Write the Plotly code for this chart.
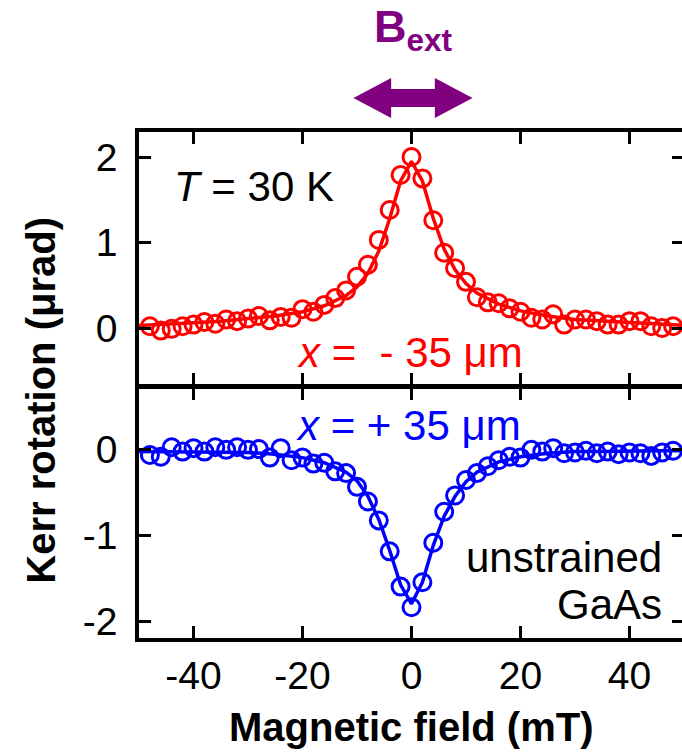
import plotly.graph_objects as go

# ---------------- data ----------------
field = [-48, -46, -44, -42, -40, -38, -36, -34, -32, -30, -28, -26, -24, -22, -20,
         -18, -16, -14, -12, -10, -8, -6, -4, -2, 0, 2, 4, 6, 8, 10, 12, 14, 16,
         18, 20, 22, 24, 26, 28, 30, 32, 34, 36, 38, 40, 42, 44, 46, 48]

kerr_minus35 = [0.02, -0.03, -0.01, 0.02, 0.04, 0.07, 0.05, 0.10, 0.08, 0.11, 0.14, 0.09,
                0.13, 0.12, 0.22, 0.19, 0.27, 0.35, 0.44, 0.60, 0.74, 1.03, 1.38, 1.79,
                2.00, 1.75, 1.26, 0.88, 0.70, 0.54, 0.36, 0.30, 0.29, 0.23, 0.19, 0.12,
                0.10, 0.16, 0.04, 0.10, 0.10, 0.08, 0.04, 0.04, 0.08, 0.08, 0.02, 0.00, 0.02]

kerr_plus35 = [-0.07, -0.09, 0.02, -0.03, 0.01, -0.03, 0.02, -0.01, 0.02, -0.01, 0.00, -0.10,
               0.01, -0.13, -0.10, -0.17, -0.16, -0.26, -0.28, -0.44, -0.61, -0.83, -1.19, -1.60,
               -1.84, -1.55, -1.09, -0.73, -0.54, -0.36, -0.28, -0.20, -0.13, -0.09, -0.10, -0.01,
               -0.03, 0.01, -0.05, -0.04, -0.02, -0.05, -0.03, -0.06, -0.04, -0.05, -0.08, -0.04, -0.02]

fit_field = [-50, -45, -40, -35, -30, -25, -20, -16, -12, -10, -8, -6, -4, -2, 0,
             2, 4, 6, 8, 10, 12, 16, 20, 25, 30, 35, 40, 45, 50]
fit_minus35 = [0.03, 0.04, 0.06, 0.08, 0.11, 0.14, 0.19, 0.26, 0.38, 0.48, 0.64, 0.90, 1.28, 1.72, 1.95,
               1.72, 1.28, 0.92, 0.68, 0.52, 0.41, 0.28, 0.20, 0.14, 0.10, 0.08, 0.06, 0.04, 0.03]
fit_plus35 = [-0.03, -0.03, -0.03, -0.04, -0.04, -0.06, -0.10, -0.16, -0.27, -0.37, -0.55, -0.82, -1.18, -1.58, -1.80,
              -1.55, -1.12, -0.78, -0.55, -0.38, -0.27, -0.15, -0.09, -0.05, -0.03, -0.03, -0.02, -0.02, -0.02]

x_ticks = [-40, -20, 0, 20, 40]
x_ticktext = ["-40", "-20", "0", "20", "40"]
top_ticks = [0, 1, 2]
top_ticktext = ["0", "1", "2"]
bottom_ticks = [-2, -1, 0]
bottom_ticktext = ["-2", "-1", "0"]

RED = "#FF0000"
BLUE = "#0000FF"
PURPLE = "#800080"
FONT = "Arial, Liberation Sans, sans-serif"

# ---------------- geometry ----------------
W, H = 690, 752
ML, MR, MT, MB = 139, 2, 132, 114
PW, PH = W - ML - MR, H - MT - MB
LW = 3.5


def px(x):
    return (x - ML) / PW


def py(y):
    return (H - MB - y) / PH


split_bottom = py(388)            # top of the lower panel
split_top = py(388 - LW)          # bottom of the upper panel (lines overlap)

# value scales (pixels per unit)
top_unit, top_zero = 85.5, 328    # px per unit, pixel row of y=0
bot_unit, bot_zero = 86.0, 449

top_range = [-(388 - LW - top_zero) / top_unit, (top_zero - 132) / top_unit]
bot_range = [-(638 - bot_zero) / bot_unit, (bot_zero - 388) / bot_unit]

fig = go.Figure()

# top panel
fig.add_trace(go.Scatter(x=fit_field, y=fit_minus35, mode="lines", xaxis="x2", yaxis="y",
                         line=dict(color=RED, width=3.5), hoverinfo="skip"))
fig.add_trace(go.Scatter(x=field, y=kerr_minus35, mode="markers", xaxis="x2", yaxis="y",
                         marker=dict(symbol="circle-open", size=17, color=RED, line=dict(width=3))))
# bottom panel
fig.add_trace(go.Scatter(x=fit_field, y=fit_plus35, mode="lines", xaxis="x", yaxis="y2",
                         line=dict(color=BLUE, width=3.5), hoverinfo="skip"))
fig.add_trace(go.Scatter(x=field, y=kerr_plus35, mode="markers", xaxis="x", yaxis="y2",
                         marker=dict(symbol="circle-open", size=17, color=BLUE, line=dict(width=3))))

axis_common = dict(showline=True, linecolor="black", linewidth=LW, mirror="ticks",
                   ticks="inside", ticklen=12, tickwidth=3, tickcolor="black",
                   showgrid=False, zeroline=False,
                   tickfont=dict(family=FONT, size=39, color="black"))

fig.update_layout(
    width=W, height=H,
    margin=dict(l=ML, r=MR, t=MT, b=MB, pad=0),
    paper_bgcolor="white", plot_bgcolor="white",
    showlegend=False,
    xaxis=dict(range=[-50, 50], tickvals=x_ticks, ticktext=x_ticktext, anchor="y2", domain=[0, 1],
               ticklabelstandoff=0, **axis_common),
    xaxis2=dict(range=[-50, 50], tickvals=x_ticks, anchor="y", matches="x", domain=[0, 1],
                showticklabels=False, **axis_common),
    yaxis=dict(range=top_range, tickvals=top_ticks, ticktext=top_ticktext,
               domain=[split_top, 1], anchor="x2", ticklabelstandoff=10, **axis_common),
    yaxis2=dict(range=bot_range, tickvals=bottom_ticks, ticktext=bottom_ticktext,
                domain=[0, split_bottom], anchor="x", ticklabelstandoff=10, **axis_common),
)

annotations = [
    dict(text="<b>Kerr rotation (μrad)</b>", x=px(40), y=py(400), textangle=-90,
         font=dict(family=FONT, size=40, color="black")),
    dict(text="<b>Magnetic field (mT)</b>", x=px(413), y=py(751), yanchor="bottom",
         font=dict(family=FONT, size=40, color="black")),
    dict(text="<b>B<sub>ext</sub></b>", x=px(416), y=py(29),
         font=dict(family=FONT, size=45, color=PURPLE)),
    dict(text="<i>T</i> = 30 K", x=px(172), y=py(186), xanchor="left",
         font=dict(family=FONT, size=42, color="black")),
    dict(text="<i>x</i> =  - 35 μm", x=px(412), y=py(352),
         font=dict(family=FONT, size=42, color=RED)),
    dict(text="<i>x</i> = + 35 μm", x=px(410), y=py(425),
         font=dict(family=FONT, size=42, color=BLUE)),
    dict(text="unstrained", x=px(668), y=py(557), xanchor="right",
         font=dict(family=FONT, size=42, color="black")),
    dict(text="GaAs", x=px(668), y=py(604), xanchor="right",
         font=dict(family=FONT, size=42, color="black")),
]
for a in annotations:
    a.update(xref="paper", yref="paper", showarrow=False)
    a.setdefault("xanchor", "center")
    a.setdefault("yanchor", "middle")
fig.update_layout(annotations=annotations)

# double-headed arrow for B_ext
pts = [(355, 98), (393, 78), (393, 89), (437, 89), (437, 78), (475, 98),
       (437, 118), (437, 107), (393, 107), (393, 118)]
path = "M " + " L ".join(f"{px(x):.5f},{py(y):.5f}" for x, y in pts) + " Z"
fig.add_shape(type="path", path=path, xref="paper", yref="paper",
              fillcolor=PURPLE, line=dict(width=0))

fig.write_html("out.html", config={"displayModeBar": False},
               post_script="document.documentElement.style.overflow='hidden';"
                           "document.body.style.overflow='hidden';")
